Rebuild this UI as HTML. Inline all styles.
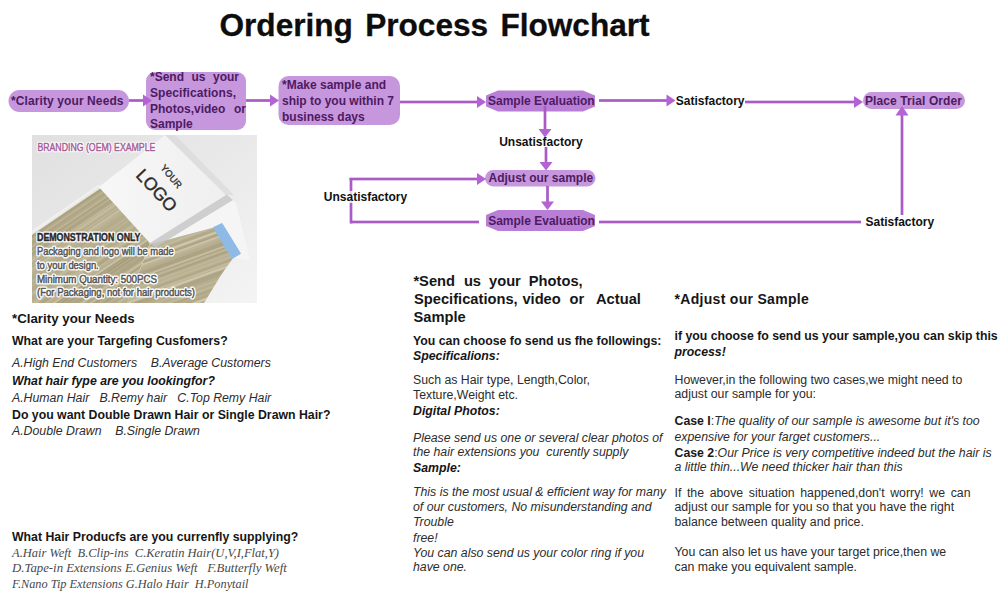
<!DOCTYPE html>
<html><head><meta charset="utf-8"><style>
html,body{margin:0;padding:0;background:#fff;}
#w{position:relative;width:1000px;height:597px;overflow:hidden;background:#fff;}
svg.bg{position:absolute;left:0;top:0;}
.t{position:absolute;white-space:pre;line-height:1;}
</style></head><body><div id="w">
<svg class="bg" width="1000" height="597" viewBox="0 0 1000 597">
<rect x="8.5" y="90" width="120.5" height="22" rx="11" fill="#c697dc"/>
<rect x="146" y="72" width="100" height="58" rx="9" fill="#c697dc"/>
<rect x="278.5" y="76" width="121.5" height="49" rx="10" fill="#c697dc"/>
<polygon points="498,90.5 583,90.5 595,95.5 595,106.5 583,111.5 498,111.5 486,106.5 486,95.5" fill="#b97fd6"/>
<polygon points="498,210 583,210 595,215 595,226 583,231 498,231 486,226 486,215" fill="#b97fd6"/>
<rect x="863" y="92" width="102" height="17" rx="8.5" fill="#c697dc"/>
<rect x="485" y="170" width="110.5" height="16.5" rx="8.25" fill="#c697dc"/>
<rect x="129" y="99.15" width="16" height="2.7" fill="#aa5cc6"/>
<polygon points="152,100.5 143,94.5 143,106.5" fill="#b462d4"/>
<rect x="246" y="99.15" width="26" height="2.7" fill="#aa5cc6"/>
<polygon points="279,100.5 270,94.5 270,106.5" fill="#b462d4"/>
<rect x="400" y="100.65" width="80" height="2.7" fill="#aa5cc6"/>
<polygon points="486,102 477,96.0 477,108.0" fill="#b462d4"/>
<rect x="599" y="99.15" width="71" height="2.7" fill="#aa5cc6"/>
<polygon points="675.5,100.5 666.5,94.5 666.5,106.5" fill="#b462d4"/>
<rect x="745" y="100.65" width="113" height="2.7" fill="#aa5cc6"/>
<polygon points="863,102 854,96.0 854,108.0" fill="#b462d4"/>
<rect x="543.65" y="106" width="2.7" height="25" fill="#aa5cc6"/>
<polygon points="545,137.5 538.5,129.0 551.5,129.0" fill="#b462d4"/>
<rect x="544.65" y="147" width="2.7" height="18" fill="#aa5cc6"/>
<polygon points="546,170.5 539.5,162.0 552.5,162.0" fill="#b462d4"/>
<rect x="546.15" y="186" width="2.7" height="18" fill="#aa5cc6"/>
<polygon points="547.5,210 541.0,201.5 554.0,201.5" fill="#b462d4"/>
<rect x="351" y="220.65" width="128" height="2.7" fill="#aa5cc6"/>
<rect x="349.65" y="178" width="2.7" height="45.5" fill="#aa5cc6"/>
<rect x="349.5" y="177.65" width="130.5" height="2.7" fill="#aa5cc6"/>
<polygon points="486,179 477,173.0 477,185.0" fill="#b462d4"/>
<rect x="599" y="220.65" width="262" height="2.7" fill="#aa5cc6"/>
<rect x="900.65" y="112" width="2.7" height="103" fill="#aa5cc6"/>
<polygon points="902,106 895.5,115.5 908.5,115.5" fill="#b462d4"/>

<svg x="32" y="135" width="225" height="168" viewBox="0 0 225 168">
<defs>
<linearGradient id="bgg" x1="0" y1="0" x2="1" y2="1">
<stop offset="0" stop-color="#e0e0e0"/><stop offset="0.5" stop-color="#e9e9e9"/><stop offset="1" stop-color="#f4f4f4"/>
</linearGradient>
<clipPath id="hc1"><polygon points="0,98.5 67,52 118,108 95,168 0,168"/></clipPath>
<filter id="hb" x="-5%" y="-5%" width="110%" height="110%"><feGaussianBlur stdDeviation="0.55"/></filter>
<clipPath id="hc2"><polygon points="118,109.5 182,92.5 201,123 189,140 172,168 95,168"/></clipPath>
<linearGradient id="cardg" x1="0" y1="0" x2="1" y2="0">
<stop offset="0" stop-color="#f7f7f7"/><stop offset="1" stop-color="#efefef"/>
</linearGradient>
</defs>
<rect width="225" height="168" fill="url(#bgg)"/>
<polygon points="118,108 194,60 204,68 218,125 201,123 182,92.5 118,109.5" fill="#f5f5f5"/>
<g clip-path="url(#hc1)">
<rect width="225" height="168" fill="#b4ab8b"/>
<g transform="rotate(-34 60 130)" filter="url(#hb)">
<rect x="-100" y="-160.0" width="450" height="1.0" fill="#cbc4a6" opacity="0.53"/>
<rect x="-100" y="-158.7" width="450" height="1.7" fill="#d4ceb4" opacity="0.51"/>
<rect x="-100" y="-156.7" width="450" height="1.3" fill="#d4ceb4" opacity="0.39"/>
<rect x="-100" y="-154.6" width="450" height="0.9" fill="#dcd7c1" opacity="0.54"/>
<rect x="-100" y="-152.2" width="450" height="0.7" fill="#cbc4a6" opacity="0.63"/>
<rect x="-100" y="-150.4" width="450" height="0.6" fill="#dcd7c1" opacity="0.53"/>
<rect x="-100" y="-148.0" width="450" height="0.6" fill="#c3bb9d" opacity="0.41"/>
<rect x="-100" y="-146.6" width="450" height="1.3" fill="#dcd7c1" opacity="0.49"/>
<rect x="-100" y="-143.8" width="450" height="0.8" fill="#dcd7c1" opacity="0.61"/>
<rect x="-100" y="-142.5" width="450" height="0.6" fill="#b5ad8e" opacity="0.38"/>
<rect x="-100" y="-141.6" width="450" height="0.8" fill="#b5ad8e" opacity="0.59"/>
<rect x="-100" y="-139.3" width="450" height="1.2" fill="#978d6e" opacity="0.51"/>
<rect x="-100" y="-137.5" width="450" height="0.8" fill="#c3bb9d" opacity="0.46"/>
<rect x="-100" y="-135.6" width="450" height="1.3" fill="#a39a79" opacity="0.68"/>
<rect x="-100" y="-133.7" width="450" height="2.0" fill="#d4ceb4" opacity="0.58"/>
<rect x="-100" y="-131.2" width="450" height="1.0" fill="#978d6e" opacity="0.54"/>
<rect x="-100" y="-128.5" width="450" height="0.6" fill="#dcd7c1" opacity="0.61"/>
<rect x="-100" y="-126.3" width="450" height="1.0" fill="#b5ad8e" opacity="0.51"/>
<rect x="-100" y="-124.3" width="450" height="1.7" fill="#d4ceb4" opacity="0.73"/>
<rect x="-100" y="-120.9" width="450" height="1.2" fill="#b5ad8e" opacity="0.38"/>
<rect x="-100" y="-118.3" width="450" height="1.0" fill="#dcd7c1" opacity="0.80"/>
<rect x="-100" y="-115.8" width="450" height="0.9" fill="#978d6e" opacity="0.75"/>
<rect x="-100" y="-114.2" width="450" height="1.9" fill="#a39a79" opacity="0.43"/>
<rect x="-100" y="-111.9" width="450" height="0.6" fill="#c3bb9d" opacity="0.48"/>
<rect x="-100" y="-109.9" width="450" height="1.1" fill="#c3bb9d" opacity="0.57"/>
<rect x="-100" y="-108.3" width="450" height="1.1" fill="#a39a79" opacity="0.75"/>
<rect x="-100" y="-105.7" width="450" height="1.8" fill="#a39a79" opacity="0.67"/>
<rect x="-100" y="-102.1" width="450" height="1.5" fill="#978d6e" opacity="0.78"/>
<rect x="-100" y="-100.2" width="450" height="0.8" fill="#cbc4a6" opacity="0.65"/>
<rect x="-100" y="-99.2" width="450" height="1.7" fill="#cbc4a6" opacity="0.47"/>
<rect x="-100" y="-97.2" width="450" height="1.1" fill="#a39a79" opacity="0.62"/>
<rect x="-100" y="-95.4" width="450" height="0.7" fill="#c3bb9d" opacity="0.58"/>
<rect x="-100" y="-93.5" width="450" height="1.5" fill="#d4ceb4" opacity="0.56"/>
<rect x="-100" y="-90.4" width="450" height="1.9" fill="#b5ad8e" opacity="0.71"/>
<rect x="-100" y="-87.7" width="450" height="1.1" fill="#d4ceb4" opacity="0.57"/>
<rect x="-100" y="-85.7" width="450" height="0.8" fill="#cbc4a6" opacity="0.55"/>
<rect x="-100" y="-84.5" width="450" height="1.4" fill="#d4ceb4" opacity="0.35"/>
<rect x="-100" y="-82.7" width="450" height="0.7" fill="#a39a79" opacity="0.63"/>
<rect x="-100" y="-81.7" width="450" height="0.8" fill="#978d6e" opacity="0.42"/>
<rect x="-100" y="-80.3" width="450" height="1.0" fill="#a39a79" opacity="0.56"/>
<rect x="-100" y="-78.9" width="450" height="1.2" fill="#978d6e" opacity="0.57"/>
<rect x="-100" y="-77.0" width="450" height="0.7" fill="#b5ad8e" opacity="0.50"/>
<rect x="-100" y="-75.7" width="450" height="1.7" fill="#cbc4a6" opacity="0.58"/>
<rect x="-100" y="-73.4" width="450" height="1.9" fill="#a39a79" opacity="0.42"/>
<rect x="-100" y="-70.4" width="450" height="0.5" fill="#dcd7c1" opacity="0.48"/>
<rect x="-100" y="-68.6" width="450" height="0.6" fill="#c3bb9d" opacity="0.47"/>
<rect x="-100" y="-67.2" width="450" height="0.8" fill="#c3bb9d" opacity="0.45"/>
<rect x="-100" y="-65.4" width="450" height="1.3" fill="#b5ad8e" opacity="0.45"/>
<rect x="-100" y="-62.6" width="450" height="2.0" fill="#c3bb9d" opacity="0.44"/>
<rect x="-100" y="-60.1" width="450" height="1.1" fill="#c3bb9d" opacity="0.45"/>
<rect x="-100" y="-57.9" width="450" height="1.0" fill="#d4ceb4" opacity="0.80"/>
<rect x="-100" y="-55.4" width="450" height="1.2" fill="#cbc4a6" opacity="0.66"/>
<rect x="-100" y="-52.5" width="450" height="1.2" fill="#b5ad8e" opacity="0.79"/>
<rect x="-100" y="-49.6" width="450" height="1.0" fill="#cbc4a6" opacity="0.40"/>
<rect x="-100" y="-47.6" width="450" height="1.0" fill="#978d6e" opacity="0.63"/>
<rect x="-100" y="-44.9" width="450" height="1.8" fill="#978d6e" opacity="0.76"/>
<rect x="-100" y="-42.4" width="450" height="1.5" fill="#c3bb9d" opacity="0.65"/>
<rect x="-100" y="-39.3" width="450" height="1.7" fill="#c3bb9d" opacity="0.44"/>
<rect x="-100" y="-36.0" width="450" height="1.2" fill="#b5ad8e" opacity="0.50"/>
<rect x="-100" y="-33.4" width="450" height="2.0" fill="#978d6e" opacity="0.56"/>
<rect x="-100" y="-30.0" width="450" height="0.6" fill="#cbc4a6" opacity="0.43"/>
<rect x="-100" y="-29.0" width="450" height="0.7" fill="#978d6e" opacity="0.71"/>
<rect x="-100" y="-27.9" width="450" height="1.7" fill="#978d6e" opacity="0.65"/>
<rect x="-100" y="-25.4" width="450" height="1.3" fill="#cbc4a6" opacity="0.36"/>
<rect x="-100" y="-22.5" width="450" height="1.6" fill="#d4ceb4" opacity="0.59"/>
<rect x="-100" y="-19.3" width="450" height="1.2" fill="#c3bb9d" opacity="0.44"/>
<rect x="-100" y="-16.5" width="450" height="0.5" fill="#cbc4a6" opacity="0.48"/>
<rect x="-100" y="-15.4" width="450" height="1.4" fill="#a39a79" opacity="0.59"/>
<rect x="-100" y="-12.5" width="450" height="0.6" fill="#b5ad8e" opacity="0.51"/>
<rect x="-100" y="-11.0" width="450" height="1.4" fill="#dcd7c1" opacity="0.54"/>
<rect x="-100" y="-7.9" width="450" height="1.3" fill="#dcd7c1" opacity="0.42"/>
<rect x="-100" y="-5.6" width="450" height="1.8" fill="#c3bb9d" opacity="0.43"/>
<rect x="-100" y="-3.6" width="450" height="1.7" fill="#cbc4a6" opacity="0.41"/>
<rect x="-100" y="-0.7" width="450" height="0.7" fill="#d4ceb4" opacity="0.50"/>
<rect x="-100" y="1.0" width="450" height="1.3" fill="#c3bb9d" opacity="0.70"/>
<rect x="-100" y="3.9" width="450" height="0.6" fill="#cbc4a6" opacity="0.47"/>
<rect x="-100" y="5.9" width="450" height="1.3" fill="#dcd7c1" opacity="0.36"/>
<rect x="-100" y="8.8" width="450" height="0.6" fill="#a39a79" opacity="0.63"/>
<rect x="-100" y="10.4" width="450" height="1.3" fill="#b5ad8e" opacity="0.47"/>
<rect x="-100" y="12.7" width="450" height="1.7" fill="#dcd7c1" opacity="0.77"/>
<rect x="-100" y="15.8" width="450" height="1.8" fill="#a39a79" opacity="0.77"/>
<rect x="-100" y="19.2" width="450" height="0.8" fill="#978d6e" opacity="0.41"/>
<rect x="-100" y="20.4" width="450" height="1.2" fill="#d4ceb4" opacity="0.65"/>
<rect x="-100" y="22.4" width="450" height="0.8" fill="#a39a79" opacity="0.70"/>
<rect x="-100" y="24.9" width="450" height="0.7" fill="#b5ad8e" opacity="0.64"/>
<rect x="-100" y="26.4" width="450" height="0.9" fill="#cbc4a6" opacity="0.79"/>
<rect x="-100" y="27.8" width="450" height="1.9" fill="#978d6e" opacity="0.75"/>
<rect x="-100" y="30.2" width="450" height="1.5" fill="#cbc4a6" opacity="0.42"/>
<rect x="-100" y="32.6" width="450" height="1.3" fill="#a39a79" opacity="0.54"/>
<rect x="-100" y="34.7" width="450" height="0.6" fill="#a39a79" opacity="0.36"/>
<rect x="-100" y="36.4" width="450" height="1.2" fill="#d4ceb4" opacity="0.52"/>
<rect x="-100" y="38.6" width="450" height="0.9" fill="#d4ceb4" opacity="0.40"/>
<rect x="-100" y="41.2" width="450" height="0.8" fill="#d4ceb4" opacity="0.39"/>
<rect x="-100" y="42.7" width="450" height="1.9" fill="#cbc4a6" opacity="0.47"/>
<rect x="-100" y="44.9" width="450" height="1.1" fill="#b5ad8e" opacity="0.72"/>
<rect x="-100" y="46.7" width="450" height="0.7" fill="#dcd7c1" opacity="0.61"/>
<rect x="-100" y="48.7" width="450" height="0.6" fill="#d4ceb4" opacity="0.71"/>
<rect x="-100" y="49.9" width="450" height="1.8" fill="#a39a79" opacity="0.77"/>
<rect x="-100" y="52.9" width="450" height="1.7" fill="#d4ceb4" opacity="0.62"/>
<rect x="-100" y="55.2" width="450" height="0.9" fill="#d4ceb4" opacity="0.55"/>
<rect x="-100" y="56.8" width="450" height="1.3" fill="#a39a79" opacity="0.63"/>
<rect x="-100" y="58.4" width="450" height="1.6" fill="#d4ceb4" opacity="0.79"/>
<rect x="-100" y="60.6" width="450" height="0.8" fill="#a39a79" opacity="0.63"/>
<rect x="-100" y="62.4" width="450" height="0.8" fill="#978d6e" opacity="0.58"/>
<rect x="-100" y="63.7" width="450" height="1.0" fill="#d4ceb4" opacity="0.80"/>
<rect x="-100" y="65.0" width="450" height="0.5" fill="#dcd7c1" opacity="0.60"/>
<rect x="-100" y="66.0" width="450" height="1.2" fill="#978d6e" opacity="0.40"/>
<rect x="-100" y="68.7" width="450" height="1.1" fill="#978d6e" opacity="0.60"/>
<rect x="-100" y="71.5" width="450" height="2.0" fill="#a39a79" opacity="0.66"/>
<rect x="-100" y="75.2" width="450" height="1.0" fill="#c3bb9d" opacity="0.75"/>
<rect x="-100" y="77.6" width="450" height="0.7" fill="#a39a79" opacity="0.79"/>
<rect x="-100" y="79.9" width="450" height="0.5" fill="#b5ad8e" opacity="0.68"/>
<rect x="-100" y="81.0" width="450" height="0.7" fill="#d4ceb4" opacity="0.65"/>
<rect x="-100" y="82.6" width="450" height="1.3" fill="#a39a79" opacity="0.62"/>
<rect x="-100" y="85.1" width="450" height="0.6" fill="#cbc4a6" opacity="0.42"/>
<rect x="-100" y="86.6" width="450" height="0.9" fill="#a39a79" opacity="0.79"/>
<rect x="-100" y="88.6" width="450" height="0.9" fill="#a39a79" opacity="0.45"/>
<rect x="-100" y="89.9" width="450" height="1.0" fill="#d4ceb4" opacity="0.56"/>
<rect x="-100" y="91.9" width="450" height="0.8" fill="#dcd7c1" opacity="0.70"/>
<rect x="-100" y="93.1" width="450" height="1.7" fill="#cbc4a6" opacity="0.53"/>
<rect x="-100" y="95.1" width="450" height="0.5" fill="#a39a79" opacity="0.63"/>
<rect x="-100" y="95.9" width="450" height="1.9" fill="#c3bb9d" opacity="0.69"/>
<rect x="-100" y="99.1" width="450" height="1.6" fill="#dcd7c1" opacity="0.53"/>
<rect x="-100" y="101.4" width="450" height="2.0" fill="#cbc4a6" opacity="0.48"/>
<rect x="-100" y="104.6" width="450" height="0.7" fill="#c3bb9d" opacity="0.73"/>
<rect x="-100" y="106.9" width="450" height="1.4" fill="#b5ad8e" opacity="0.67"/>
<rect x="-100" y="109.4" width="450" height="1.9" fill="#c3bb9d" opacity="0.58"/>
<rect x="-100" y="112.8" width="450" height="1.7" fill="#c3bb9d" opacity="0.66"/>
<rect x="-100" y="116.0" width="450" height="1.6" fill="#b5ad8e" opacity="0.64"/>
<rect x="-100" y="117.9" width="450" height="0.6" fill="#b5ad8e" opacity="0.51"/>
<rect x="-100" y="118.8" width="450" height="1.8" fill="#dcd7c1" opacity="0.37"/>
<rect x="-100" y="120.8" width="450" height="1.3" fill="#cbc4a6" opacity="0.57"/>
<rect x="-100" y="122.3" width="450" height="1.7" fill="#b5ad8e" opacity="0.77"/>
<rect x="-100" y="125.6" width="450" height="0.6" fill="#dcd7c1" opacity="0.38"/>
<rect x="-100" y="127.6" width="450" height="0.9" fill="#d4ceb4" opacity="0.73"/>
<rect x="-100" y="129.1" width="450" height="1.6" fill="#cbc4a6" opacity="0.68"/>
<rect x="-100" y="132.5" width="450" height="1.2" fill="#978d6e" opacity="0.38"/>
<rect x="-100" y="135.4" width="450" height="0.9" fill="#d4ceb4" opacity="0.63"/>
<rect x="-100" y="137.6" width="450" height="0.6" fill="#cbc4a6" opacity="0.50"/>
<rect x="-100" y="139.4" width="450" height="1.5" fill="#dcd7c1" opacity="0.61"/>
<rect x="-100" y="141.2" width="450" height="0.6" fill="#a39a79" opacity="0.79"/>
<rect x="-100" y="142.1" width="450" height="0.8" fill="#978d6e" opacity="0.48"/>
<rect x="-100" y="144.0" width="450" height="1.2" fill="#978d6e" opacity="0.70"/>
<rect x="-100" y="147.0" width="450" height="1.3" fill="#a39a79" opacity="0.79"/>
<rect x="-100" y="150.0" width="450" height="0.5" fill="#978d6e" opacity="0.38"/>
<rect x="-100" y="151.5" width="450" height="2.0" fill="#a39a79" opacity="0.52"/>
<rect x="-100" y="155.2" width="450" height="1.9" fill="#d4ceb4" opacity="0.61"/>
<rect x="-100" y="157.5" width="450" height="1.3" fill="#a39a79" opacity="0.41"/>
<rect x="-100" y="160.3" width="450" height="1.3" fill="#d4ceb4" opacity="0.67"/>
<rect x="-100" y="162.1" width="450" height="1.8" fill="#978d6e" opacity="0.53"/>
<rect x="-100" y="164.4" width="450" height="1.9" fill="#b5ad8e" opacity="0.55"/>
<rect x="-100" y="167.0" width="450" height="0.7" fill="#a39a79" opacity="0.52"/>
<rect x="-100" y="168.1" width="450" height="1.0" fill="#a39a79" opacity="0.69"/>
<rect x="-100" y="170.7" width="450" height="0.7" fill="#cbc4a6" opacity="0.67"/>
<rect x="-100" y="173.0" width="450" height="0.9" fill="#a39a79" opacity="0.38"/>
<rect x="-100" y="174.8" width="450" height="1.8" fill="#d4ceb4" opacity="0.51"/>
<rect x="-100" y="177.5" width="450" height="0.9" fill="#d4ceb4" opacity="0.48"/>
<rect x="-100" y="178.7" width="450" height="1.5" fill="#b5ad8e" opacity="0.77"/>
<rect x="-100" y="180.7" width="450" height="0.9" fill="#dcd7c1" opacity="0.49"/>
<rect x="-100" y="183.1" width="450" height="1.7" fill="#978d6e" opacity="0.75"/>
<rect x="-100" y="186.3" width="450" height="1.4" fill="#dcd7c1" opacity="0.60"/>
<rect x="-100" y="189.1" width="450" height="0.6" fill="#b5ad8e" opacity="0.53"/>
<rect x="-100" y="190.8" width="450" height="0.7" fill="#c3bb9d" opacity="0.48"/>
<rect x="-100" y="191.8" width="450" height="1.9" fill="#cbc4a6" opacity="0.43"/>
<rect x="-100" y="194.6" width="450" height="0.9" fill="#a39a79" opacity="0.68"/>
<rect x="-100" y="197.2" width="450" height="0.9" fill="#b5ad8e" opacity="0.46"/>
<rect x="-100" y="199.1" width="450" height="1.5" fill="#d4ceb4" opacity="0.43"/>
<rect x="-100" y="201.1" width="450" height="0.8" fill="#c3bb9d" opacity="0.57"/>
<rect x="-100" y="202.4" width="450" height="1.9" fill="#c3bb9d" opacity="0.55"/>
<rect x="-100" y="204.7" width="450" height="0.8" fill="#d4ceb4" opacity="0.43"/>
<rect x="-100" y="206.6" width="450" height="1.0" fill="#a39a79" opacity="0.47"/>
<rect x="-100" y="208.7" width="450" height="1.8" fill="#b5ad8e" opacity="0.74"/>
<rect x="-100" y="211.3" width="450" height="1.6" fill="#cbc4a6" opacity="0.52"/>
<rect x="-100" y="213.7" width="450" height="0.6" fill="#a39a79" opacity="0.61"/>
<rect x="-100" y="215.1" width="450" height="1.5" fill="#dcd7c1" opacity="0.63"/>
<rect x="-100" y="218.2" width="450" height="0.8" fill="#a39a79" opacity="0.75"/>
<rect x="-100" y="219.8" width="450" height="1.5" fill="#978d6e" opacity="0.78"/>
<rect x="-100" y="222.8" width="450" height="1.8" fill="#d4ceb4" opacity="0.41"/>
<rect x="-100" y="225.5" width="450" height="1.6" fill="#c3bb9d" opacity="0.56"/>
<rect x="-100" y="228.3" width="450" height="0.5" fill="#978d6e" opacity="0.77"/>
<rect x="-100" y="230.5" width="450" height="1.3" fill="#978d6e" opacity="0.79"/>
<rect x="-100" y="232.4" width="450" height="0.7" fill="#cbc4a6" opacity="0.42"/>
<rect x="-100" y="234.8" width="450" height="0.7" fill="#c3bb9d" opacity="0.67"/>
<rect x="-100" y="236.7" width="450" height="1.6" fill="#978d6e" opacity="0.39"/>
<rect x="-100" y="239.8" width="450" height="0.5" fill="#cbc4a6" opacity="0.45"/>
<rect x="-100" y="242.0" width="450" height="1.5" fill="#a39a79" opacity="0.78"/>
<rect x="-100" y="244.6" width="450" height="1.3" fill="#978d6e" opacity="0.66"/>
<rect x="-100" y="246.3" width="450" height="0.6" fill="#dcd7c1" opacity="0.77"/>
<rect x="-100" y="247.4" width="450" height="0.9" fill="#c3bb9d" opacity="0.62"/>
<rect x="-100" y="248.5" width="450" height="1.0" fill="#978d6e" opacity="0.48"/>
<rect x="-100" y="250.2" width="450" height="1.8" fill="#cbc4a6" opacity="0.56"/>
<rect x="-100" y="252.5" width="450" height="0.9" fill="#978d6e" opacity="0.67"/>
<rect x="-100" y="254.1" width="450" height="0.5" fill="#978d6e" opacity="0.75"/>
<rect x="-100" y="255.8" width="450" height="0.6" fill="#cbc4a6" opacity="0.65"/>
<rect x="-100" y="258.1" width="450" height="0.8" fill="#d4ceb4" opacity="0.66"/>
<rect x="-100" y="260.3" width="450" height="1.0" fill="#978d6e" opacity="0.44"/>
<rect x="-100" y="262.9" width="450" height="1.6" fill="#dcd7c1" opacity="0.38"/>
<rect x="-100" y="265.5" width="450" height="0.8" fill="#c3bb9d" opacity="0.72"/>
<rect x="-100" y="266.8" width="450" height="0.8" fill="#c3bb9d" opacity="0.75"/>
<rect x="-100" y="268.0" width="450" height="1.4" fill="#dcd7c1" opacity="0.43"/>
<rect x="-100" y="270.0" width="450" height="1.1" fill="#b5ad8e" opacity="0.38"/>
<rect x="-100" y="272.3" width="450" height="1.9" fill="#d4ceb4" opacity="0.45"/>
<rect x="-100" y="275.9" width="450" height="0.7" fill="#d4ceb4" opacity="0.67"/>
<rect x="-100" y="277.2" width="450" height="1.2" fill="#b5ad8e" opacity="0.75"/>
<rect x="-100" y="279.7" width="450" height="2.0" fill="#cbc4a6" opacity="0.50"/>
<rect x="-100" y="282.2" width="450" height="1.9" fill="#b5ad8e" opacity="0.56"/>
<rect x="-100" y="284.8" width="450" height="1.6" fill="#c3bb9d" opacity="0.52"/>
<rect x="-100" y="287.1" width="450" height="0.8" fill="#d4ceb4" opacity="0.39"/>
<rect x="-100" y="288.2" width="450" height="1.1" fill="#d4ceb4" opacity="0.60"/>
<rect x="-100" y="290.7" width="450" height="1.1" fill="#c3bb9d" opacity="0.72"/>
<rect x="-100" y="293.3" width="450" height="1.1" fill="#d4ceb4" opacity="0.67"/>
<rect x="-100" y="295.0" width="450" height="1.3" fill="#978d6e" opacity="0.44"/>
<rect x="-100" y="297.1" width="450" height="1.8" fill="#d4ceb4" opacity="0.63"/>
<rect x="-100" y="299.5" width="450" height="1.4" fill="#978d6e" opacity="0.37"/>
</g>
</g>
<g clip-path="url(#hc2)">
<rect width="225" height="168" fill="#b8af90"/>
<g transform="rotate(-20 150 130)" filter="url(#hb)">
<rect x="-100" y="-160.0" width="450" height="1.2" fill="#dcd7c1" opacity="0.74"/>
<rect x="-100" y="-157.4" width="450" height="1.2" fill="#c3bb9d" opacity="0.61"/>
<rect x="-100" y="-155.7" width="450" height="1.3" fill="#b5ad8e" opacity="0.63"/>
<rect x="-100" y="-153.9" width="450" height="1.2" fill="#cbc4a6" opacity="0.39"/>
<rect x="-100" y="-151.3" width="450" height="1.5" fill="#d4ceb4" opacity="0.62"/>
<rect x="-100" y="-148.9" width="450" height="1.2" fill="#b5ad8e" opacity="0.63"/>
<rect x="-100" y="-147.3" width="450" height="0.5" fill="#dcd7c1" opacity="0.38"/>
<rect x="-100" y="-146.5" width="450" height="1.8" fill="#dcd7c1" opacity="0.36"/>
<rect x="-100" y="-143.7" width="450" height="1.2" fill="#c3bb9d" opacity="0.44"/>
<rect x="-100" y="-142.0" width="450" height="0.9" fill="#d4ceb4" opacity="0.65"/>
<rect x="-100" y="-140.1" width="450" height="0.9" fill="#dcd7c1" opacity="0.80"/>
<rect x="-100" y="-137.7" width="450" height="1.6" fill="#a39a79" opacity="0.69"/>
<rect x="-100" y="-135.1" width="450" height="0.5" fill="#dcd7c1" opacity="0.69"/>
<rect x="-100" y="-133.7" width="450" height="1.8" fill="#978d6e" opacity="0.38"/>
<rect x="-100" y="-131.7" width="450" height="1.5" fill="#cbc4a6" opacity="0.44"/>
<rect x="-100" y="-128.5" width="450" height="1.2" fill="#b5ad8e" opacity="0.53"/>
<rect x="-100" y="-127.0" width="450" height="1.4" fill="#c3bb9d" opacity="0.65"/>
<rect x="-100" y="-124.8" width="450" height="1.0" fill="#d4ceb4" opacity="0.78"/>
<rect x="-100" y="-122.4" width="450" height="0.7" fill="#cbc4a6" opacity="0.67"/>
<rect x="-100" y="-121.5" width="450" height="1.2" fill="#978d6e" opacity="0.43"/>
<rect x="-100" y="-119.2" width="450" height="1.2" fill="#cbc4a6" opacity="0.79"/>
<rect x="-100" y="-116.6" width="450" height="1.1" fill="#978d6e" opacity="0.40"/>
<rect x="-100" y="-114.6" width="450" height="0.8" fill="#a39a79" opacity="0.74"/>
<rect x="-100" y="-112.0" width="450" height="1.4" fill="#d4ceb4" opacity="0.44"/>
<rect x="-100" y="-109.8" width="450" height="1.8" fill="#b5ad8e" opacity="0.61"/>
<rect x="-100" y="-107.8" width="450" height="0.7" fill="#978d6e" opacity="0.47"/>
<rect x="-100" y="-105.6" width="450" height="1.0" fill="#a39a79" opacity="0.52"/>
<rect x="-100" y="-104.3" width="450" height="0.8" fill="#b5ad8e" opacity="0.46"/>
<rect x="-100" y="-102.3" width="450" height="1.1" fill="#978d6e" opacity="0.41"/>
<rect x="-100" y="-100.1" width="450" height="1.7" fill="#cbc4a6" opacity="0.74"/>
<rect x="-100" y="-97.9" width="450" height="0.7" fill="#cbc4a6" opacity="0.72"/>
<rect x="-100" y="-96.6" width="450" height="0.8" fill="#b5ad8e" opacity="0.63"/>
<rect x="-100" y="-94.7" width="450" height="1.5" fill="#978d6e" opacity="0.75"/>
<rect x="-100" y="-92.0" width="450" height="1.1" fill="#d4ceb4" opacity="0.40"/>
<rect x="-100" y="-89.8" width="450" height="0.9" fill="#b5ad8e" opacity="0.67"/>
<rect x="-100" y="-88.4" width="450" height="1.7" fill="#dcd7c1" opacity="0.57"/>
<rect x="-100" y="-85.6" width="450" height="1.9" fill="#d4ceb4" opacity="0.41"/>
<rect x="-100" y="-82.7" width="450" height="1.5" fill="#dcd7c1" opacity="0.63"/>
<rect x="-100" y="-80.6" width="450" height="1.9" fill="#cbc4a6" opacity="0.69"/>
<rect x="-100" y="-78.4" width="450" height="1.1" fill="#cbc4a6" opacity="0.38"/>
<rect x="-100" y="-76.8" width="450" height="1.1" fill="#dcd7c1" opacity="0.79"/>
<rect x="-100" y="-75.4" width="450" height="0.7" fill="#978d6e" opacity="0.79"/>
<rect x="-100" y="-73.5" width="450" height="1.5" fill="#dcd7c1" opacity="0.78"/>
<rect x="-100" y="-70.8" width="450" height="1.9" fill="#978d6e" opacity="0.76"/>
<rect x="-100" y="-67.6" width="450" height="1.9" fill="#d4ceb4" opacity="0.62"/>
<rect x="-100" y="-65.3" width="450" height="0.6" fill="#a39a79" opacity="0.49"/>
<rect x="-100" y="-62.9" width="450" height="0.6" fill="#dcd7c1" opacity="0.52"/>
<rect x="-100" y="-62.0" width="450" height="1.9" fill="#b5ad8e" opacity="0.67"/>
<rect x="-100" y="-58.6" width="450" height="1.9" fill="#a39a79" opacity="0.39"/>
<rect x="-100" y="-55.8" width="450" height="0.6" fill="#c3bb9d" opacity="0.54"/>
<rect x="-100" y="-53.7" width="450" height="1.8" fill="#dcd7c1" opacity="0.36"/>
<rect x="-100" y="-50.7" width="450" height="1.1" fill="#d4ceb4" opacity="0.62"/>
<rect x="-100" y="-49.3" width="450" height="1.5" fill="#a39a79" opacity="0.75"/>
<rect x="-100" y="-46.5" width="450" height="1.1" fill="#b5ad8e" opacity="0.66"/>
<rect x="-100" y="-44.4" width="450" height="1.2" fill="#dcd7c1" opacity="0.39"/>
<rect x="-100" y="-41.8" width="450" height="0.5" fill="#dcd7c1" opacity="0.39"/>
<rect x="-100" y="-41.1" width="450" height="1.9" fill="#d4ceb4" opacity="0.57"/>
<rect x="-100" y="-37.9" width="450" height="1.9" fill="#a39a79" opacity="0.75"/>
<rect x="-100" y="-35.3" width="450" height="0.7" fill="#dcd7c1" opacity="0.44"/>
<rect x="-100" y="-34.1" width="450" height="1.9" fill="#b5ad8e" opacity="0.77"/>
<rect x="-100" y="-31.2" width="450" height="0.9" fill="#978d6e" opacity="0.65"/>
<rect x="-100" y="-29.9" width="450" height="1.1" fill="#c3bb9d" opacity="0.69"/>
<rect x="-100" y="-28.2" width="450" height="0.8" fill="#cbc4a6" opacity="0.61"/>
<rect x="-100" y="-26.7" width="450" height="0.7" fill="#978d6e" opacity="0.51"/>
<rect x="-100" y="-24.3" width="450" height="0.6" fill="#d4ceb4" opacity="0.78"/>
<rect x="-100" y="-23.1" width="450" height="0.8" fill="#978d6e" opacity="0.56"/>
<rect x="-100" y="-20.7" width="450" height="1.7" fill="#978d6e" opacity="0.63"/>
<rect x="-100" y="-17.9" width="450" height="1.0" fill="#c3bb9d" opacity="0.73"/>
<rect x="-100" y="-15.8" width="450" height="1.0" fill="#c3bb9d" opacity="0.36"/>
<rect x="-100" y="-13.2" width="450" height="0.6" fill="#b5ad8e" opacity="0.48"/>
<rect x="-100" y="-11.9" width="450" height="1.5" fill="#dcd7c1" opacity="0.36"/>
<rect x="-100" y="-10.0" width="450" height="1.2" fill="#d4ceb4" opacity="0.70"/>
<rect x="-100" y="-8.2" width="450" height="1.7" fill="#c3bb9d" opacity="0.37"/>
<rect x="-100" y="-5.3" width="450" height="1.2" fill="#b5ad8e" opacity="0.59"/>
<rect x="-100" y="-2.9" width="450" height="1.1" fill="#d4ceb4" opacity="0.66"/>
<rect x="-100" y="-1.3" width="450" height="1.2" fill="#cbc4a6" opacity="0.67"/>
<rect x="-100" y="1.3" width="450" height="1.3" fill="#d4ceb4" opacity="0.43"/>
<rect x="-100" y="3.2" width="450" height="1.0" fill="#b5ad8e" opacity="0.78"/>
<rect x="-100" y="5.2" width="450" height="2.0" fill="#cbc4a6" opacity="0.53"/>
<rect x="-100" y="8.7" width="450" height="1.9" fill="#d4ceb4" opacity="0.53"/>
<rect x="-100" y="12.2" width="450" height="1.1" fill="#978d6e" opacity="0.55"/>
<rect x="-100" y="14.5" width="450" height="1.9" fill="#978d6e" opacity="0.60"/>
<rect x="-100" y="17.6" width="450" height="1.3" fill="#c3bb9d" opacity="0.77"/>
<rect x="-100" y="19.8" width="450" height="1.5" fill="#cbc4a6" opacity="0.39"/>
<rect x="-100" y="22.9" width="450" height="1.7" fill="#b5ad8e" opacity="0.41"/>
<rect x="-100" y="25.1" width="450" height="1.1" fill="#d4ceb4" opacity="0.79"/>
<rect x="-100" y="27.3" width="450" height="1.7" fill="#a39a79" opacity="0.47"/>
<rect x="-100" y="30.3" width="450" height="0.5" fill="#dcd7c1" opacity="0.39"/>
<rect x="-100" y="31.7" width="450" height="1.3" fill="#c3bb9d" opacity="0.47"/>
<rect x="-100" y="34.7" width="450" height="0.8" fill="#c3bb9d" opacity="0.38"/>
<rect x="-100" y="37.0" width="450" height="0.8" fill="#a39a79" opacity="0.66"/>
<rect x="-100" y="39.5" width="450" height="1.2" fill="#dcd7c1" opacity="0.76"/>
<rect x="-100" y="41.7" width="450" height="1.5" fill="#978d6e" opacity="0.78"/>
<rect x="-100" y="44.2" width="450" height="1.9" fill="#d4ceb4" opacity="0.69"/>
<rect x="-100" y="47.0" width="450" height="1.3" fill="#c3bb9d" opacity="0.68"/>
<rect x="-100" y="49.6" width="450" height="1.3" fill="#c3bb9d" opacity="0.76"/>
<rect x="-100" y="51.5" width="450" height="1.5" fill="#c3bb9d" opacity="0.74"/>
<rect x="-100" y="54.2" width="450" height="1.0" fill="#cbc4a6" opacity="0.79"/>
<rect x="-100" y="56.2" width="450" height="1.4" fill="#cbc4a6" opacity="0.53"/>
<rect x="-100" y="57.9" width="450" height="0.5" fill="#978d6e" opacity="0.36"/>
<rect x="-100" y="60.2" width="450" height="1.3" fill="#978d6e" opacity="0.59"/>
<rect x="-100" y="63.2" width="450" height="0.7" fill="#d4ceb4" opacity="0.66"/>
<rect x="-100" y="64.2" width="450" height="1.3" fill="#978d6e" opacity="0.76"/>
<rect x="-100" y="67.0" width="450" height="1.1" fill="#cbc4a6" opacity="0.56"/>
<rect x="-100" y="68.5" width="450" height="1.2" fill="#c3bb9d" opacity="0.77"/>
<rect x="-100" y="71.3" width="450" height="1.3" fill="#d4ceb4" opacity="0.44"/>
<rect x="-100" y="73.8" width="450" height="1.9" fill="#cbc4a6" opacity="0.67"/>
<rect x="-100" y="77.5" width="450" height="0.6" fill="#cbc4a6" opacity="0.45"/>
<rect x="-100" y="79.3" width="450" height="1.0" fill="#a39a79" opacity="0.46"/>
<rect x="-100" y="81.3" width="450" height="1.2" fill="#dcd7c1" opacity="0.41"/>
<rect x="-100" y="83.6" width="450" height="0.9" fill="#cbc4a6" opacity="0.67"/>
<rect x="-100" y="86.0" width="450" height="0.5" fill="#b5ad8e" opacity="0.54"/>
<rect x="-100" y="87.6" width="450" height="0.7" fill="#cbc4a6" opacity="0.74"/>
<rect x="-100" y="89.4" width="450" height="0.8" fill="#cbc4a6" opacity="0.73"/>
<rect x="-100" y="91.4" width="450" height="1.8" fill="#cbc4a6" opacity="0.76"/>
<rect x="-100" y="94.4" width="450" height="1.0" fill="#cbc4a6" opacity="0.49"/>
<rect x="-100" y="96.1" width="450" height="1.9" fill="#cbc4a6" opacity="0.70"/>
<rect x="-100" y="98.5" width="450" height="0.6" fill="#cbc4a6" opacity="0.41"/>
<rect x="-100" y="99.5" width="450" height="1.1" fill="#978d6e" opacity="0.72"/>
<rect x="-100" y="101.5" width="450" height="1.7" fill="#cbc4a6" opacity="0.44"/>
<rect x="-100" y="104.4" width="450" height="1.7" fill="#d4ceb4" opacity="0.44"/>
<rect x="-100" y="107.4" width="450" height="1.9" fill="#a39a79" opacity="0.40"/>
<rect x="-100" y="110.2" width="450" height="1.6" fill="#dcd7c1" opacity="0.80"/>
<rect x="-100" y="113.4" width="450" height="1.7" fill="#978d6e" opacity="0.40"/>
<rect x="-100" y="115.4" width="450" height="1.3" fill="#dcd7c1" opacity="0.76"/>
<rect x="-100" y="117.7" width="450" height="0.8" fill="#d4ceb4" opacity="0.44"/>
<rect x="-100" y="120.0" width="450" height="2.0" fill="#b5ad8e" opacity="0.39"/>
<rect x="-100" y="122.3" width="450" height="1.9" fill="#978d6e" opacity="0.38"/>
<rect x="-100" y="124.6" width="450" height="1.1" fill="#978d6e" opacity="0.58"/>
<rect x="-100" y="126.5" width="450" height="1.4" fill="#d4ceb4" opacity="0.64"/>
<rect x="-100" y="128.2" width="450" height="0.8" fill="#978d6e" opacity="0.55"/>
<rect x="-100" y="130.4" width="450" height="1.1" fill="#cbc4a6" opacity="0.62"/>
<rect x="-100" y="131.9" width="450" height="1.7" fill="#a39a79" opacity="0.75"/>
<rect x="-100" y="135.0" width="450" height="1.6" fill="#c3bb9d" opacity="0.76"/>
<rect x="-100" y="138.3" width="450" height="1.4" fill="#cbc4a6" opacity="0.58"/>
<rect x="-100" y="141.4" width="450" height="1.7" fill="#a39a79" opacity="0.48"/>
<rect x="-100" y="143.5" width="450" height="1.6" fill="#cbc4a6" opacity="0.72"/>
<rect x="-100" y="146.0" width="450" height="1.8" fill="#dcd7c1" opacity="0.66"/>
<rect x="-100" y="149.2" width="450" height="1.6" fill="#978d6e" opacity="0.44"/>
<rect x="-100" y="151.4" width="450" height="1.7" fill="#a39a79" opacity="0.56"/>
<rect x="-100" y="153.3" width="450" height="1.0" fill="#b5ad8e" opacity="0.76"/>
<rect x="-100" y="154.6" width="450" height="0.9" fill="#b5ad8e" opacity="0.48"/>
<rect x="-100" y="156.1" width="450" height="1.1" fill="#cbc4a6" opacity="0.59"/>
<rect x="-100" y="158.0" width="450" height="2.0" fill="#b5ad8e" opacity="0.45"/>
<rect x="-100" y="160.4" width="450" height="1.1" fill="#dcd7c1" opacity="0.36"/>
<rect x="-100" y="162.7" width="450" height="1.6" fill="#a39a79" opacity="0.55"/>
<rect x="-100" y="165.3" width="450" height="1.6" fill="#b5ad8e" opacity="0.52"/>
<rect x="-100" y="167.3" width="450" height="0.9" fill="#a39a79" opacity="0.60"/>
<rect x="-100" y="169.2" width="450" height="2.0" fill="#dcd7c1" opacity="0.73"/>
<rect x="-100" y="171.5" width="450" height="1.2" fill="#b5ad8e" opacity="0.38"/>
<rect x="-100" y="173.8" width="450" height="1.6" fill="#d4ceb4" opacity="0.52"/>
<rect x="-100" y="177.1" width="450" height="1.1" fill="#cbc4a6" opacity="0.74"/>
<rect x="-100" y="179.3" width="450" height="1.4" fill="#978d6e" opacity="0.78"/>
<rect x="-100" y="181.6" width="450" height="1.3" fill="#dcd7c1" opacity="0.49"/>
<rect x="-100" y="183.9" width="450" height="1.2" fill="#a39a79" opacity="0.60"/>
<rect x="-100" y="185.8" width="450" height="1.6" fill="#a39a79" opacity="0.36"/>
<rect x="-100" y="188.8" width="450" height="1.4" fill="#b5ad8e" opacity="0.42"/>
<rect x="-100" y="191.6" width="450" height="1.1" fill="#a39a79" opacity="0.69"/>
<rect x="-100" y="192.9" width="450" height="2.0" fill="#a39a79" opacity="0.38"/>
<rect x="-100" y="196.6" width="450" height="1.1" fill="#978d6e" opacity="0.46"/>
<rect x="-100" y="199.1" width="450" height="0.6" fill="#d4ceb4" opacity="0.77"/>
<rect x="-100" y="201.0" width="450" height="1.2" fill="#c3bb9d" opacity="0.46"/>
<rect x="-100" y="203.6" width="450" height="0.6" fill="#978d6e" opacity="0.56"/>
<rect x="-100" y="204.7" width="450" height="0.6" fill="#dcd7c1" opacity="0.42"/>
<rect x="-100" y="206.0" width="450" height="0.7" fill="#978d6e" opacity="0.55"/>
<rect x="-100" y="207.4" width="450" height="1.4" fill="#978d6e" opacity="0.51"/>
<rect x="-100" y="210.1" width="450" height="1.7" fill="#cbc4a6" opacity="0.78"/>
<rect x="-100" y="213.2" width="450" height="0.9" fill="#d4ceb4" opacity="0.58"/>
<rect x="-100" y="214.8" width="450" height="1.3" fill="#c3bb9d" opacity="0.51"/>
<rect x="-100" y="216.7" width="450" height="1.5" fill="#dcd7c1" opacity="0.66"/>
<rect x="-100" y="218.7" width="450" height="0.9" fill="#cbc4a6" opacity="0.44"/>
<rect x="-100" y="220.2" width="450" height="2.0" fill="#cbc4a6" opacity="0.75"/>
<rect x="-100" y="222.5" width="450" height="0.6" fill="#a39a79" opacity="0.47"/>
<rect x="-100" y="223.3" width="450" height="0.6" fill="#cbc4a6" opacity="0.59"/>
<rect x="-100" y="224.2" width="450" height="0.6" fill="#b5ad8e" opacity="0.42"/>
<rect x="-100" y="225.4" width="450" height="2.0" fill="#978d6e" opacity="0.57"/>
<rect x="-100" y="227.9" width="450" height="1.0" fill="#b5ad8e" opacity="0.41"/>
<rect x="-100" y="230.5" width="450" height="1.7" fill="#978d6e" opacity="0.71"/>
<rect x="-100" y="233.4" width="450" height="1.7" fill="#cbc4a6" opacity="0.55"/>
<rect x="-100" y="236.4" width="450" height="1.1" fill="#cbc4a6" opacity="0.52"/>
<rect x="-100" y="238.8" width="450" height="2.0" fill="#a39a79" opacity="0.48"/>
<rect x="-100" y="242.2" width="450" height="1.7" fill="#cbc4a6" opacity="0.54"/>
<rect x="-100" y="244.7" width="450" height="0.6" fill="#a39a79" opacity="0.39"/>
<rect x="-100" y="245.7" width="450" height="1.3" fill="#978d6e" opacity="0.72"/>
<rect x="-100" y="248.0" width="450" height="1.7" fill="#d4ceb4" opacity="0.38"/>
<rect x="-100" y="250.2" width="450" height="1.5" fill="#d4ceb4" opacity="0.66"/>
<rect x="-100" y="252.7" width="450" height="1.6" fill="#a39a79" opacity="0.48"/>
<rect x="-100" y="254.8" width="450" height="1.0" fill="#b5ad8e" opacity="0.50"/>
<rect x="-100" y="257.5" width="450" height="1.0" fill="#978d6e" opacity="0.61"/>
<rect x="-100" y="260.1" width="450" height="1.9" fill="#a39a79" opacity="0.55"/>
<rect x="-100" y="263.5" width="450" height="1.0" fill="#a39a79" opacity="0.45"/>
<rect x="-100" y="266.2" width="450" height="1.6" fill="#dcd7c1" opacity="0.46"/>
<rect x="-100" y="268.6" width="450" height="1.0" fill="#a39a79" opacity="0.65"/>
<rect x="-100" y="270.8" width="450" height="1.7" fill="#b5ad8e" opacity="0.60"/>
<rect x="-100" y="274.0" width="450" height="1.3" fill="#c3bb9d" opacity="0.62"/>
<rect x="-100" y="275.8" width="450" height="0.6" fill="#978d6e" opacity="0.75"/>
<rect x="-100" y="277.0" width="450" height="0.5" fill="#dcd7c1" opacity="0.38"/>
<rect x="-100" y="278.0" width="450" height="0.9" fill="#d4ceb4" opacity="0.64"/>
<rect x="-100" y="280.5" width="450" height="0.6" fill="#dcd7c1" opacity="0.49"/>
<rect x="-100" y="282.1" width="450" height="1.0" fill="#a39a79" opacity="0.68"/>
<rect x="-100" y="284.8" width="450" height="0.6" fill="#b5ad8e" opacity="0.64"/>
<rect x="-100" y="285.8" width="450" height="1.7" fill="#978d6e" opacity="0.46"/>
<rect x="-100" y="288.0" width="450" height="1.6" fill="#dcd7c1" opacity="0.50"/>
<rect x="-100" y="290.6" width="450" height="1.0" fill="#c3bb9d" opacity="0.79"/>
<rect x="-100" y="292.9" width="450" height="1.2" fill="#dcd7c1" opacity="0.71"/>
<rect x="-100" y="294.5" width="450" height="1.4" fill="#d4ceb4" opacity="0.53"/>
<rect x="-100" y="297.4" width="450" height="1.5" fill="#c3bb9d" opacity="0.35"/>
<rect x="-100" y="299.7" width="450" height="0.6" fill="#978d6e" opacity="0.78"/>
</g>
</g>
<polygon points="0,95.5 67,49.5 69,53 0,100" fill="#f2f2f2" opacity="0.85"/>
<polygon points="116,108 194,59 201,65 124,112" fill="#c4c4c4" opacity="0.8"/>
<polygon points="67,52 133,0 194,60 118,108" fill="url(#cardg)"/>
<polygon points="133,0 194,60 202,60 143,0" fill="#d6d6d6" opacity="0.55"/>
<polygon points="181.5,92.5 190,88.5 208.5,118.6 200,123.6" fill="#8fbae6" stroke="#8fbae6" stroke-width="1" stroke-linejoin="round"/>
<text x="0" y="0" transform="translate(128,33) rotate(50)" font-family="Liberation Sans" font-size="9.5" fill="#333" stroke="#333" stroke-width="0.35">YOUR</text>
<text x="0" y="0" transform="translate(103,41) rotate(47)" font-family="Liberation Sans" font-size="17.5" fill="#2a2a2a" stroke="#2a2a2a" stroke-width="0.4">LOGO</text>
</svg>
<text x="37.4" y="151.4" font-family="Liberation Sans" font-size="11" font-weight="normal" fill="#fff" stroke="#fff" stroke-width="2.6" stroke-linejoin="round" textLength="118" lengthAdjust="spacingAndGlyphs">BRANDING (OEM) EXAMPLE</text>
<text x="37.4" y="151.4" font-family="Liberation Sans" font-size="11" font-weight="normal" fill="#a65e98" stroke="#a65e98" stroke-width="0.45" stroke-linejoin="round" textLength="118" lengthAdjust="spacingAndGlyphs">BRANDING (OEM) EXAMPLE</text>
<text x="37" y="241.25" font-family="Liberation Sans" font-size="10.5" font-weight="bold" fill="#fff" stroke="#fff" stroke-width="3.1" stroke-linejoin="round" textLength="103.5" lengthAdjust="spacingAndGlyphs">DEMONSTRATION ONLY</text>
<text x="37" y="241.25" font-family="Liberation Sans" font-size="10.5" font-weight="bold" fill="#2a2a2a" stroke="#2a2a2a" stroke-width="0.45" stroke-linejoin="round" textLength="103.5" lengthAdjust="spacingAndGlyphs">DEMONSTRATION ONLY</text>
<text x="37" y="255" font-family="Liberation Sans" font-size="10" font-weight="normal" fill="#fff" stroke="#fff" stroke-width="3.1" stroke-linejoin="round" textLength="136.75" lengthAdjust="spacingAndGlyphs">Packaging and logo will be made</text>
<text x="37" y="255" font-family="Liberation Sans" font-size="10" font-weight="normal" fill="#555555" stroke="#555555" stroke-width="0.45" stroke-linejoin="round" textLength="136.75" lengthAdjust="spacingAndGlyphs">Packaging and logo will be made</text>
<text x="37" y="268.75" font-family="Liberation Sans" font-size="10" font-weight="normal" fill="#fff" stroke="#fff" stroke-width="3.1" stroke-linejoin="round" textLength="61.75" lengthAdjust="spacingAndGlyphs">to your design.</text>
<text x="37" y="268.75" font-family="Liberation Sans" font-size="10" font-weight="normal" fill="#555555" stroke="#555555" stroke-width="0.45" stroke-linejoin="round" textLength="61.75" lengthAdjust="spacingAndGlyphs">to your design.</text>
<text x="37" y="282.5" font-family="Liberation Sans" font-size="10" font-weight="normal" fill="#fff" stroke="#fff" stroke-width="3.1" stroke-linejoin="round" textLength="120" lengthAdjust="spacingAndGlyphs">Minimum Quantity: 500PCS</text>
<text x="37" y="282.5" font-family="Liberation Sans" font-size="10" font-weight="normal" fill="#555555" stroke="#555555" stroke-width="0.45" stroke-linejoin="round" textLength="120" lengthAdjust="spacingAndGlyphs">Minimum Quantity: 500PCS</text>
<text x="37" y="296" font-family="Liberation Sans" font-size="10" font-weight="normal" fill="#fff" stroke="#fff" stroke-width="3.1" stroke-linejoin="round" textLength="158" lengthAdjust="spacingAndGlyphs">(For Packaging, not for hair products)</text>
<text x="37" y="296" font-family="Liberation Sans" font-size="10" font-weight="normal" fill="#555555" stroke="#555555" stroke-width="0.45" stroke-linejoin="round" textLength="158" lengthAdjust="spacingAndGlyphs">(For Packaging, not for hair products)</text>
</svg>
<div class="t" style="left:219.5px;top:9.55px;font-size:31.6px;font-weight:bold;font-style:normal;color:#0d0d0d;font-family:'Liberation Sans',sans-serif;word-spacing:3.5px;-webkit-text-stroke:0.3px #0d0d0d;">Ordering Process Flowchart</div>
<div class="t" style="left:11px;top:95.14px;font-size:12px;font-weight:bold;font-style:normal;color:#4d1a63;font-family:'Liberation Sans',sans-serif;letter-spacing:0.1px;">*Clarity your Needs</div>
<div class="t" style="left:150px;top:71.44px;font-size:12px;font-weight:bold;font-style:normal;color:#4d1a63;font-family:'Liberation Sans',sans-serif;width:89px;text-align:justify;text-align-last:justify;">*Send us your</div>
<div class="t" style="left:150px;top:86.64px;font-size:12px;font-weight:bold;font-style:normal;color:#4d1a63;font-family:'Liberation Sans',sans-serif;letter-spacing:0.1px;">Specifications,</div>
<div class="t" style="left:150px;top:103.44px;font-size:12px;font-weight:bold;font-style:normal;color:#4d1a63;font-family:'Liberation Sans',sans-serif;width:96px;text-align:justify;text-align-last:justify;">Photos,video or</div>
<div class="t" style="left:150px;top:117.64px;font-size:12px;font-weight:bold;font-style:normal;color:#4d1a63;font-family:'Liberation Sans',sans-serif;">Sample</div>
<div class="t" style="left:282px;top:79.14px;font-size:12px;font-weight:bold;font-style:normal;color:#4d1a63;font-family:'Liberation Sans',sans-serif;">*Make sample and</div>
<div class="t" style="left:282px;top:95.34px;font-size:12px;font-weight:bold;font-style:normal;color:#4d1a63;font-family:'Liberation Sans',sans-serif;">ship to you within 7</div>
<div class="t" style="left:282px;top:111.04px;font-size:12px;font-weight:bold;font-style:normal;color:#4d1a63;font-family:'Liberation Sans',sans-serif;">business days</div>
<div class="t" style="left:488px;top:95.34px;font-size:12px;font-weight:bold;font-style:normal;color:#4d1a63;font-family:'Liberation Sans',sans-serif;">Sample Evaluation</div>
<div class="t" style="left:675.8px;top:95.04px;font-size:12px;font-weight:bold;font-style:normal;color:#111;font-family:'Liberation Sans',sans-serif;">Satisfactory</div>
<div class="t" style="left:865px;top:95.24px;font-size:12px;font-weight:bold;font-style:normal;color:#4d1a63;font-family:'Liberation Sans',sans-serif;letter-spacing:0.1px;">Place Trial Order</div>
<div class="t" style="left:499.2px;top:136.24px;font-size:12px;font-weight:bold;font-style:normal;color:#111;font-family:'Liberation Sans',sans-serif;">Unsatisfactory</div>
<div class="t" style="left:488.5px;top:171.84px;font-size:12px;font-weight:bold;font-style:normal;color:#4d1a63;font-family:'Liberation Sans',sans-serif;">Adjust our sample</div>
<div class="t" style="left:323.8px;top:190.84px;font-size:12px;font-weight:bold;font-style:normal;color:#111;font-family:'Liberation Sans',sans-serif;background:rgba(255,255,255,0.75);">Unsatisfactory</div>
<div class="t" style="left:488.2px;top:215.44px;font-size:12px;font-weight:bold;font-style:normal;color:#4d1a63;font-family:'Liberation Sans',sans-serif;">Sample Evaluation</div>
<div class="t" style="left:865.5px;top:215.84px;font-size:12px;font-weight:bold;font-style:normal;color:#111;font-family:'Liberation Sans',sans-serif;">Satisfactory</div>
<div class="t" style="left:12px;top:312.14px;font-size:13.3px;font-weight:bold;font-style:normal;color:#161616;font-family:'Liberation Sans',sans-serif;">*Clarity your Needs</div>
<div class="t" style="left:12px;top:334.59px;font-size:12.3px;font-weight:bold;font-style:normal;color:#161616;font-family:'Liberation Sans',sans-serif;">What are your Targefing Cusfomers?</div>
<div class="t" style="left:12px;top:356.59px;font-size:12.3px;font-weight:normal;font-style:italic;color:#2c2c2c;font-family:'Liberation Sans',sans-serif;">A.High End Customers    B.Average Customers</div>
<div class="t" style="left:12px;top:374.59px;font-size:12.3px;font-weight:bold;font-style:italic;color:#161616;font-family:'Liberation Sans',sans-serif;">What hair fype are you lookingfor?</div>
<div class="t" style="left:12px;top:392.19px;font-size:12.3px;font-weight:normal;font-style:italic;color:#2c2c2c;font-family:'Liberation Sans',sans-serif;">A.Human Hair   B.Remy hair   C.Top Remy Hair</div>
<div class="t" style="left:12px;top:408.79px;font-size:12.3px;font-weight:bold;font-style:normal;color:#161616;font-family:'Liberation Sans',sans-serif;">Do you want Double Drawn Hair or Single Drawn Hair?</div>
<div class="t" style="left:12px;top:425.19px;font-size:12.3px;font-weight:normal;font-style:italic;color:#2c2c2c;font-family:'Liberation Sans',sans-serif;">A.Double Drawn    B.Single Drawn</div>
<div class="t" style="left:12px;top:531.09px;font-size:12.3px;font-weight:bold;font-style:normal;color:#161616;font-family:'Liberation Sans',sans-serif;">What Hair Producfs are you currenfly supplying?</div>
<div class="t" style="left:12px;top:546.82px;font-size:12.5px;font-weight:normal;font-style:italic;color:#484848;font-family:'Liberation Serif',sans-serif;">A.Hair Weft  B.Clip-ins  C.Keratin Hair(U,V,I,Flat,Y)</div>
<div class="t" style="left:12px;top:562.16px;font-size:12.8px;font-weight:normal;font-style:italic;color:#484848;font-family:'Liberation Serif',sans-serif;">D.Tape-in Extensions E.Genius Weft   F.Butterfly Weft</div>
<div class="t" style="left:12px;top:577.59px;font-size:12.3px;font-weight:normal;font-style:italic;color:#484848;font-family:'Liberation Serif',sans-serif;">F.Nano Tip Extensions G.Halo Hair  H.Ponytail</div>
<div class="t" style="left:413.4px;top:273.56px;font-size:14.7px;font-weight:bold;font-style:normal;color:#161616;font-family:'Liberation Sans',sans-serif;">*Send</div>
<div class="t" style="left:463.9px;top:273.56px;font-size:14.7px;font-weight:bold;font-style:normal;color:#161616;font-family:'Liberation Sans',sans-serif;">us</div>
<div class="t" style="left:489px;top:273.56px;font-size:14.7px;font-weight:bold;font-style:normal;color:#161616;font-family:'Liberation Sans',sans-serif;">your</div>
<div class="t" style="left:528.8px;top:273.56px;font-size:14.7px;font-weight:bold;font-style:normal;color:#161616;font-family:'Liberation Sans',sans-serif;">Photos,</div>
<div class="t" style="left:414px;top:291.76px;font-size:14.7px;font-weight:bold;font-style:normal;color:#161616;font-family:'Liberation Sans',sans-serif;">Specifications,</div>
<div class="t" style="left:522.4px;top:291.76px;font-size:14.7px;font-weight:bold;font-style:normal;color:#161616;font-family:'Liberation Sans',sans-serif;">video</div>
<div class="t" style="left:569.5px;top:291.76px;font-size:14.7px;font-weight:bold;font-style:normal;color:#161616;font-family:'Liberation Sans',sans-serif;">or</div>
<div class="t" style="left:596px;top:291.76px;font-size:14.7px;font-weight:bold;font-style:normal;color:#161616;font-family:'Liberation Sans',sans-serif;">Actual</div>
<div class="t" style="left:413.5px;top:309.96px;font-size:14.7px;font-weight:bold;font-style:normal;color:#161616;font-family:'Liberation Sans',sans-serif;">Sample</div>
<div class="t" style="left:413px;top:335.29px;font-size:12.3px;font-weight:bold;font-style:normal;color:#161616;font-family:'Liberation Sans',sans-serif;">You can choose fo send us fhe followings:</div>
<div class="t" style="left:413px;top:349.79px;font-size:12.3px;font-weight:bold;font-style:italic;color:#161616;font-family:'Liberation Sans',sans-serif;">Specificalions:</div>
<div class="t" style="left:413px;top:374.19px;font-size:12.3px;font-weight:normal;font-style:normal;color:#2c2c2c;font-family:'Liberation Sans',sans-serif;">Such as Hair type, Length,Color,</div>
<div class="t" style="left:413px;top:388.79px;font-size:12.3px;font-weight:normal;font-style:normal;color:#2c2c2c;font-family:'Liberation Sans',sans-serif;">Texture,Weight etc.</div>
<div class="t" style="left:413px;top:404.79px;font-size:12.3px;font-weight:bold;font-style:italic;color:#161616;font-family:'Liberation Sans',sans-serif;">Digital Photos:</div>
<div class="t" style="left:413px;top:431.59px;font-size:12.3px;font-weight:normal;font-style:italic;color:#2c2c2c;font-family:'Liberation Sans',sans-serif;">Please send us one or several clear photos of</div>
<div class="t" style="left:413px;top:446.19px;font-size:12.3px;font-weight:normal;font-style:italic;color:#2c2c2c;font-family:'Liberation Sans',sans-serif;">the hair extensions you  curently supply</div>
<div class="t" style="left:413px;top:461.59px;font-size:12.3px;font-weight:bold;font-style:italic;color:#161616;font-family:'Liberation Sans',sans-serif;">Sample:</div>
<div class="t" style="left:413px;top:485.59px;font-size:12.3px;font-weight:normal;font-style:italic;color:#2c2c2c;font-family:'Liberation Sans',sans-serif;">This is the most usual &amp; efficient way for many</div>
<div class="t" style="left:413px;top:500.99px;font-size:12.3px;font-weight:normal;font-style:italic;color:#2c2c2c;font-family:'Liberation Sans',sans-serif;">of our customers, No misunderstanding and</div>
<div class="t" style="left:413px;top:516.39px;font-size:12.3px;font-weight:normal;font-style:italic;color:#2c2c2c;font-family:'Liberation Sans',sans-serif;">Trouble</div>
<div class="t" style="left:413px;top:531.79px;font-size:12.3px;font-weight:normal;font-style:italic;color:#2c2c2c;font-family:'Liberation Sans',sans-serif;">free!</div>
<div class="t" style="left:413px;top:547.19px;font-size:12.3px;font-weight:normal;font-style:italic;color:#2c2c2c;font-family:'Liberation Sans',sans-serif;">You can also send us your color ring if you</div>
<div class="t" style="left:413px;top:561.19px;font-size:12.3px;font-weight:normal;font-style:italic;color:#2c2c2c;font-family:'Liberation Sans',sans-serif;">have one.</div>
<div class="t" style="left:674.5px;top:292.35px;font-size:14px;font-weight:bold;font-style:normal;color:#161616;font-family:'Liberation Sans',sans-serif;letter-spacing:0.3px;">*Adjust our Sample</div>
<div class="t" style="left:674.5px;top:329.89px;font-size:12.3px;font-weight:bold;font-style:normal;color:#161616;font-family:'Liberation Sans',sans-serif;">if you choose fo send us your sample,you can skip this</div>
<div class="t" style="left:674.5px;top:345.59px;font-size:12.3px;font-weight:bold;font-style:italic;color:#161616;font-family:'Liberation Sans',sans-serif;">process!</div>
<div class="t" style="left:674.5px;top:374.39px;font-size:12.3px;font-weight:normal;font-style:normal;color:#2c2c2c;font-family:'Liberation Sans',sans-serif;">However,in the following two cases,we might need to</div>
<div class="t" style="left:674.5px;top:388.49px;font-size:12.3px;font-weight:normal;font-style:normal;color:#2c2c2c;font-family:'Liberation Sans',sans-serif;">adjust our sample for you:</div>
<div class="t" style="left:674.5px;top:415.39px;font-size:12.3px;font-weight:normal;font-style:normal;color:#2c2c2c;font-family:'Liberation Sans',sans-serif;"><b style="color:#1a1a1a">Case I</b>:<i>The quality of our sample is awesome but it's too</i></div>
<div class="t" style="left:674.5px;top:430.79px;font-size:12.3px;font-weight:normal;font-style:italic;color:#2c2c2c;font-family:'Liberation Sans',sans-serif;">expensive for your farget customers...</div>
<div class="t" style="left:674.5px;top:446.59px;font-size:12.3px;font-weight:normal;font-style:normal;color:#2c2c2c;font-family:'Liberation Sans',sans-serif;"><b style="color:#1a1a1a">Case 2</b>:<i>Our Price is very competitive indeed but the hair is</i></div>
<div class="t" style="left:674.5px;top:460.89px;font-size:12.3px;font-weight:normal;font-style:italic;color:#2c2c2c;font-family:'Liberation Sans',sans-serif;">a little thin...We need thicker hair than this</div>
<div class="t" style="left:674.5px;top:486.79px;font-size:12.3px;font-weight:normal;font-style:normal;color:#2c2c2c;font-family:'Liberation Sans',sans-serif;width:296px;text-align:justify;text-align-last:justify;">If the above situation happened,don&#x27;t worry! we can</div>
<div class="t" style="left:674.5px;top:501.39px;font-size:12.3px;font-weight:normal;font-style:normal;color:#2c2c2c;font-family:'Liberation Sans',sans-serif;">adjust our sample for you so that you have the right</div>
<div class="t" style="left:674.5px;top:516.49px;font-size:12.3px;font-weight:normal;font-style:normal;color:#2c2c2c;font-family:'Liberation Sans',sans-serif;">balance between quality and price.</div>
<div class="t" style="left:674.5px;top:545.99px;font-size:12.3px;font-weight:normal;font-style:normal;color:#2c2c2c;font-family:'Liberation Sans',sans-serif;">You can also let us have your target price,then we</div>
<div class="t" style="left:674.5px;top:560.69px;font-size:12.3px;font-weight:normal;font-style:normal;color:#2c2c2c;font-family:'Liberation Sans',sans-serif;">can make you equivalent sample.</div>
</div></body></html>
